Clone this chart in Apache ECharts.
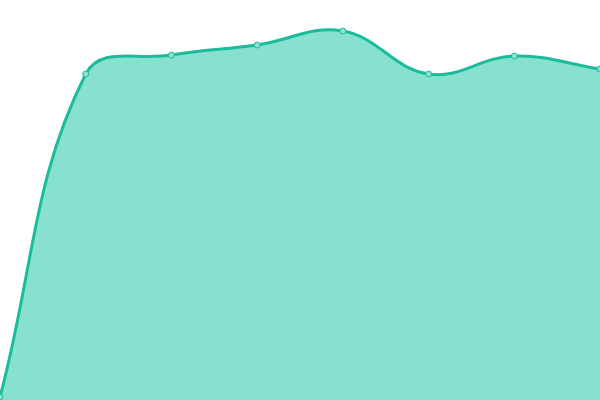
<!DOCTYPE html>
<html><head><meta charset="utf-8">
<script src="https://cdn.jsdelivr.net/npm/echarts@6/dist/echarts.min.js"></script>
<style>html,body{margin:0;padding:0;background:#fff}#c{width:600px;height:400px}</style>
</head><body><div id="c"></div>
<script>
var categories = ['1','2','3','4','5','6','7','8'];
var values = [3, 326, 345, 355, 369, 326, 344, 331];
var tension = 0.4;

function splinePath(api, params) {
  var cs = params.coordSys;
  var pts = values.map(function (v, i) { return api.coord([i, v]); });
  var clampX = function (x) { return Math.max(cs.x, Math.min(cs.x + cs.width, x)); };
  var clampY = function (y) { return Math.max(cs.y, Math.min(cs.y + cs.height, y)); };
  var cps = pts.map(function (p, i) {
    var prev = pts[i - 1] || p, next = pts[i + 1] || p;
    var d01 = Math.hypot(p[0] - prev[0], p[1] - prev[1]);
    var d12 = Math.hypot(next[0] - p[0], next[1] - p[1]);
    var s01 = d01 / (d01 + d12), s12 = d12 / (d01 + d12);
    if (isNaN(s01)) s01 = 0;
    if (isNaN(s12)) s12 = 0;
    var fa = tension * s01, fb = tension * s12;
    var dx = next[0] - prev[0], dy = next[1] - prev[1];
    return {
      a: [clampX(p[0] - fa * dx), clampY(p[1] - fa * dy)],
      b: [clampX(p[0] + fb * dx), clampY(p[1] + fb * dy)]
    };
  });
  var d = 'M' + pts[0][0] + ' ' + pts[0][1];
  for (var i = 1; i < pts.length; i++) {
    var c1 = cps[i - 1].b, c2 = cps[i].a, p = pts[i];
    d += ' C' + c1[0] + ' ' + c1[1] + ' ' + c2[0] + ' ' + c2[1] + ' ' + p[0] + ' ' + p[1];
  }
  var base = cs.y + cs.height;
  var fill = d + ' L' + pts[pts.length - 1][0] + ' ' + base + ' L' + pts[0][0] + ' ' + base + ' Z';
  return { line: d, fill: fill };
}

var chart = echarts.init(document.getElementById('c'));
chart.setOption({
  animation: false,
  grid: {left: 0, right: 0, top: 0, bottom: 0},
  xAxis: {type: 'category', data: categories, boundaryGap: false, show: false},
  yAxis: {type: 'value', min: 0, max: 400, show: false},
  series: [{
    type: 'custom',
    data: values.map(function (v, i) { return [i, v]; }),
    clip: false,
    renderItem: function (params, api) {
      if (params.dataIndex !== 0) return null;
      var p = splinePath(api, params);
      return {
        type: 'group',
        children: [
          {type: 'path', shape: {pathData: p.fill}, style: {fill: '#88e0cf', stroke: null}},
          {type: 'path', shape: {pathData: p.line}, style: {fill: null, stroke: '#1abc9c', lineWidth: 3}}
        ]
      };
    }
  }, {
    type: 'line',
    data: values,
    symbol: 'circle',
    symbolSize: 6,
    lineStyle: {opacity: 0, width: 0},
    itemStyle: {color: '#8ce0d0', borderColor: '#1abc9c', borderWidth: 1}
  }]
});
</script></body></html>
